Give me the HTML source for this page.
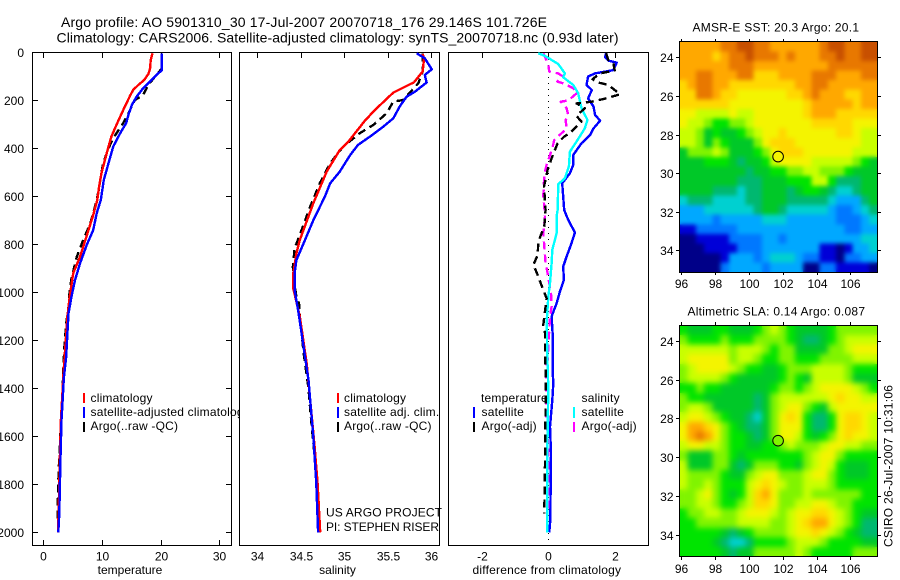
<!DOCTYPE html>
<html>
<head>
<meta charset="utf-8">
<style>
html,body{margin:0;padding:0;background:#fff;}
svg{display:block;}
text{font-family:"Liberation Sans",sans-serif;font-size:12px;fill:#000;}
.ttl{font-size:14px;}
.lg{letter-spacing:0.2px;}
.ax{fill:#fff;stroke:#000;stroke-width:1;shape-rendering:crispEdges;}
.mapbox{fill:none;stroke:#000;stroke-width:1;shape-rendering:crispEdges;}
.tick{stroke:#000;stroke-width:1;shape-rendering:crispEdges;}
.bar{stroke-width:2.4;shape-rendering:crispEdges;}
.prof{fill:none;stroke-width:2.4;shape-rendering:crispEdges;stroke-linejoin:round;}
</style>
</head>
<body>
<svg xmlns="http://www.w3.org/2000/svg" width="900" height="580" viewBox="0 0 900 580">
  <defs>
    <filter id="sst-smooth" filterUnits="userSpaceOnUse" x="680" y="42" width="197" height="230" color-interpolation-filters="sRGB">
      <feGaussianBlur in="SourceGraphic" stdDeviation="2.2" result="b"/>
      <feMerge><feMergeNode in="SourceGraphic"/><feMergeNode in="b"/></feMerge>
    </filter>
    <filter id="sla-smooth" filterUnits="userSpaceOnUse" x="680" y="326" width="197" height="230" color-interpolation-filters="sRGB">
      <feGaussianBlur in="SourceGraphic" stdDeviation="3" result="b"/>
      <feMerge><feMergeNode in="SourceGraphic"/><feMergeNode in="b"/></feMerge>
    </filter>
  </defs>
  <rect width="900" height="580" fill="#fff"/>
  <text class="ttl" x="61" y="27" textLength="486" lengthAdjust="spacing">Argo profile: AO 5901310_30 17-Jul-2007 20070718_176 29.146S 101.726E</text>
  <text class="ttl" x="56.5" y="42.5" textLength="562" lengthAdjust="spacing">Climatology: CARS2006. Satellite-adjusted climatology: synTS_20070718.nc (0.93d later)</text>

  <g>
    <rect class="ax" x="32.5" y="52.5" width="199" height="493"/>
    <g id="temp-marks"></g>
    <text x="130" y="574" text-anchor="middle">temperature</text>
    <rect class="bar" x="83" y="393" width="2" height="10" fill="#f00"/>
    <rect class="bar" x="83" y="407" width="2" height="11" fill="#00f"/>
    <rect class="bar" x="83" y="422" width="2" height="10" fill="#000"/>
    <text class="lg" x="90.5" y="402">climatology</text>
    <text class="lg" x="90.5" y="416">satellite-adjusted climatology</text>
    <text class="lg" x="90.5" y="430">Argo(..raw -QC)</text>
  </g>

  <g>
    <rect class="ax" x="239.5" y="52.5" width="200" height="493"/>
    <g id="sal-marks"></g>
    <text x="337.5" y="574" text-anchor="middle">salinity</text>
    <rect class="bar" x="337" y="393" width="2" height="10" fill="#f00"/>
    <rect class="bar" x="337" y="407" width="2" height="11" fill="#00f"/>
    <rect class="bar" x="337" y="422" width="2" height="10" fill="#000"/>
    <text class="lg" x="344" y="402">climatology</text>
    <text class="lg" x="344" y="416">satellite adj. clim.</text>
    <text class="lg" x="344" y="430">Argo(..raw -QC)</text>
    <text x="326" y="516.5" textLength="116" lengthAdjust="spacing">US ARGO PROJECT</text>
    <text x="326" y="531" textLength="113" lengthAdjust="spacing">PI: STEPHEN RISER</text>
  </g>

  <g>
    <rect class="ax" x="448.5" y="52.5" width="200" height="493"/>
    <line x1="548.5" y1="53" x2="548.5" y2="545" stroke="#000" stroke-width="1" stroke-dasharray="1 5" shape-rendering="crispEdges"/>
    <g id="diff-marks"></g>
    <text x="472.5" y="574" textLength="148.5" lengthAdjust="spacing">difference from climatology</text>
    <text class="lg" x="481" y="402">temperature</text>
    <rect class="bar" x="473" y="407" width="2" height="11" fill="#00f"/>
    <rect class="bar" x="473" y="422" width="2" height="10" fill="#000"/>
    <text class="lg" x="481.5" y="416">satellite</text>
    <text class="lg" x="481.5" y="430">Argo(-adj)</text>
    <text class="lg" x="581.5" y="402">salinity</text>
    <rect class="bar" x="573" y="407" width="2" height="11" fill="#0ff"/>
    <rect class="bar" x="573" y="422" width="2" height="10" fill="#f0f"/>
    <text class="lg" x="581.5" y="416">satellite</text>
    <text class="lg" x="581.5" y="430">Argo(-adj)</text>
  </g>

  <g>
    <text x="692.5" y="31.5" textLength="166.5" lengthAdjust="spacing">AMSR-E SST: 20.3 Argo: 20.1</text>
    <g id="sst-cells" filter="url(#sst-smooth)"></g>
    <rect class="mapbox" x="679.5" y="41.5" width="198" height="231"/>
    <g id="sst-axis"></g>
  </g>

  <g>
    <text x="687.5" y="315.5" textLength="177.5" lengthAdjust="spacing">Altimetric SLA: 0.14 Argo: 0.087</text>
    <g id="sla-cells" filter="url(#sla-smooth)"></g>
    <rect class="mapbox" x="679.5" y="325.5" width="198" height="231"/>
    <g id="sla-axis"></g>
  </g>

  <text transform="translate(892.5,547) rotate(-90)" textLength="162" lengthAdjust="spacing">CSIRO 26-Jul-2007 10:31:06</text>
</svg>

<script>
// ---------- tick labels ----------
const depthTicks = [0,200,400,600,800,1000,1200,1400,1600,1800,2000];
const tempTicks = [0,10,20,30];
const salTicks = [34,34.5,35,35.5,36];
const diffTicks = [-2,0,2];
const lonTicks = [96,98,100,102,104,106];
const latTicks = [24,26,28,30,32,34];

// ---------- temperature profiles ----------
const tempClimDepth = [4,32,67,90,115,136,157,180,226,268,317,351,393,449,504,560,615,678,741,852,921,1018,1102,1227,1350,1400,1532,1670,1782,1921,2000];
const tempClimValue = [18.6,18.3,18.2,17.9,17.2,16.2,15.3,14.8,13.9,13.1,12.2,11.6,11.1,10.5,9.9,9.5,9.2,8.5,7.7,6.25,5.1,4.5,4.1,3.75,3.4,3.3,3.0,2.85,2.75,2.6,2.5];
const tempSatDepth = [4,46,74,94,122,150,185,219,261,296,337,393,462,532,615,671,741,803,880,949,1018,1088,1171,1268,1359,1400,1532,1670,1782,1921,2000];
const tempSatValue = [20.2,20.2,20.2,19.3,18.2,17.0,15.9,15.1,14.5,14.1,13.1,11.9,11.1,10.3,9.8,9.1,8.5,7.4,6.25,5.4,4.8,4.3,4.1,3.9,3.5,3.4,3.1,2.95,2.85,2.73,2.56];
const tempArgoDepth = [4,67,108,136,178,199,254,296,358,400,462,518,580,643,713,782,852,942,991,1060,1129,1227,1324,1450,1600,1750,1900,1960];
const tempArgoValue = [20.2,20.2,18.8,17.9,17.0,15.6,14.5,13.6,11.9,11.1,10.2,9.8,9.4,8.8,8.0,6.8,5.7,4.8,4.5,4.3,3.9,3.6,3.4,3.2,2.9,2.6,2.45,2.4];

// ---------- salinity profiles ----------
const salClimDepth = [7,25,80,125,168,240,285,372,407,497,629,782,838,921,984,1100,1300,1643,1796,2000];
const salClimValue = [35.905,35.92,35.905,35.805,35.567,35.356,35.24,35.05,34.95,34.80,34.645,34.49,34.45,34.415,34.415,34.49,34.57,34.66,34.695,34.725];
const salSatDepth = [4,25,71,94,126,164,185,226,275,310,351,386,428,497,546,600,700,782,866,921,991,1074,1171,1268,1366,1449,1601,1796,2000];
const salSatValue = [35.836,35.93,36.01,35.93,35.95,35.816,35.72,35.64,35.567,35.45,35.30,35.16,35.07,34.95,34.84,34.78,34.645,34.55,34.45,34.43,34.43,34.47,34.51,34.55,34.59,34.61,34.645,34.68,34.70];
const salArgoDepth = [4,80,129,199,205,254,303,337,393,462,546,643,761,817,893,935,1018,1046,1100,1255,1310,1400,1530,1700,1921];
const salArgoValue = [35.905,35.905,35.855,35.68,35.567,35.49,35.336,35.18,34.99,34.84,34.72,34.61,34.49,34.43,34.41,34.415,34.45,34.48,34.49,34.535,34.555,34.59,34.62,34.665,34.71];

// ---------- differences from climatology ----------
const diffTempSatDepth = [4,21,35,43,74,88,101,136,157,192,226,261,285,317,344,379,428,469,504,546,601,657,698,751,796,851,893,948,997,1046,1101,1171,1323,1380,1449,1560,1670,1949,2000];
const diffTempSatValue = [1.74,1.71,1.81,2.06,1.96,1.41,1.20,1.15,1.31,1.20,1.36,1.41,1.56,1.36,1.26,1.0,0.75,0.75,0.65,0.42,0.45,0.48,0.60,0.80,0.70,0.55,0.45,0.47,0.35,0.25,0.10,0.13,0.13,0.15,0.12,0.05,0.08,0.06,0.03];
const diffTempArgoDepth = [4,32,46,76,88,112,126,136,175,193,206,213,233,265,289,337,351,379,442,490,560,657,726,789,844,886,934,962,1025,1136,1171,1254,1316,1463,1713,1921];
const diffTempArgoValue = [1.74,1.81,1.96,2.0,1.56,1.33,1.5,1.81,2.16,1.71,1.31,0.85,1.1,0.85,1.0,0.65,0.48,0.28,0.10,-0.02,-0.13,-0.08,-0.12,-0.30,-0.32,-0.45,-0.30,-0.23,-0.05,-0.15,-0.10,-0.10,-0.08,-0.08,-0.10,-0.12];
const diffSalSatDepth = [4,15,49,88,104,136,171,233,282,317,372,414,476,525,549,657,684,754,823,879,962,1018,1129,1309,1400,1670,2000];
const diffSalSatValue = [-0.30,-0.10,0.30,0.50,0.45,0.75,0.90,1.0,1.18,1.10,0.85,0.65,0.62,0.50,0.30,0.28,0.25,0.25,0.12,0.10,0.05,0,-0.05,-0.02,0,-0.03,-0.03];
const diffSalArgoDepth = [4,18,53,81,88,99,122,129,150,168,201,206,233,261,282,317,337,365,400,428,469,511,601,643,684,754,809,879,921,1004,1059,1101,1282,1309,1393,1490,1670,1921];
const diffSalArgoValue = [-0.15,-0.10,0,0.03,0.30,0.42,0.27,0.45,0.75,0.88,0.60,0.37,0.55,0.60,0.52,0.55,0.40,0.18,0.12,0.05,-0.05,-0.12,-0.15,-0.12,-0.10,-0.15,-0.12,-0.08,-0.02,0.08,0.10,0.05,-0.02,-0.07,-0.07,-0.07,0,0];

// ---------- map colour levels (0 = coldest/lowest, 14 = warmest/highest) ----------
const sstLevels = [
[12,12,12,12,12,13,13,14,14,13,13,12,12,12,12,12,12,13,14,14,13,13,14,14],
[12,12,12,12,11,12,13,13,14,13,13,13,12,13,12,12,12,13,13,14,13,13,14,14],
[12,12,12,12,12,12,13,13,13,12,12,12,12,12,12,12,12,12,13,13,13,13,13,13],
[12,12,13,13,12,12,12,13,13,11,11,11,12,12,12,12,13,13,13,12,12,12,13,13],
[11,12,13,13,12,12,11,11,11,11,11,11,11,11,12,12,13,13,12,12,12,12,12,12],
[11,11,13,13,12,11,11,10,10,10,10,10,10,11,11,12,13,12,12,12,11,11,12,12],
[11,11,11,11,11,11,10,10,10,10,10,10,10,10,10,11,12,12,12,12,12,11,12,12],
[10,10,9,9,9,9,10,9,9,10,10,10,10,10,10,11,12,12,12,11,11,11,11,11],
[10,9,9,8,7,7,8,8,9,10,10,10,10,10,10,10,11,11,11,11,11,10,10,10],
[9,9,8,6,7,6,6,7,8,9,10,10,11,10,10,10,10,10,10,11,11,10,9,9],
[9,9,8,6,8,7,6,6,6,8,10,11,11,11,10,10,10,10,10,10,10,10,9,9],
[6,8,8,8,9,8,6,6,6,7,8,10,11,11,11,10,10,10,10,10,10,9,9,9],
[6,6,6,7,7,7,6,5,6,6,7,9,10,10,10,10,9,9,9,9,9,8,7,6],
[6,6,6,6,6,6,6,6,5,6,6,7,7,8,8,9,9,8,8,8,7,6,6,6],
[6,6,6,6,6,6,6,5,5,5,6,6,6,7,7,7,9,9,7,5,5,5,6,6],
[6,6,6,6,5,5,5,4,5,5,6,6,6,5,6,7,7,6,5,4,4,5,6,6],
[4,5,5,5,4,4,4,4,5,5,6,6,6,5,5,5,5,5,4,3,3,3,5,6],
[3,3,3,4,4,4,4,4,4,5,6,6,5,4,4,4,4,4,3,2,2,3,4,5],
[3,3,3,3,2,3,3,3,3,3,4,4,4,3,3,3,3,3,3,2,2,2,3,4],
[1,1,2,2,2,2,2,3,3,3,3,3,3,3,3,3,3,3,3,3,2,2,3,3],
[0,0,1,1,1,1,2,2,2,2,3,3,2,3,3,3,3,3,3,3,3,3,4,4],
[0,0,0,1,1,1,1,2,2,2,3,3,3,3,3,3,3,1,1,0,1,3,3,4],
[0,0,0,0,0,1,3,3,3,2,3,4,4,4,3,2,2,1,1,0,2,2,3,3],
[0,0,0,0,0,2,3,3,3,3,2,3,3,3,3,0,0,2,2,1,1,1,1,0]
];
const slaLevels = [
[7,6,6,6,7,7,6,6,6,7,8,9,8,7,6,6,6,6,7,8,8,8,8,8],
[8,7,7,7,7,8,7,7,7,8,8,8,8,7,6,5,5,6,7,8,9,9,9,9],
[9,9,9,9,9,9,8,9,9,9,8,7,8,8,6,6,6,6,8,8,9,10,10,10],
[9,10,10,10,10,10,8,9,9,8,7,7,8,8,7,7,7,8,8,8,8,9,9,9],
[8,9,10,10,10,10,9,8,7,7,6,6,7,8,8,8,9,9,9,9,8,7,7,7],
[8,9,9,9,9,8,7,6,6,6,6,6,7,8,7,6,9,9,9,9,8,6,6,6],
[7,7,8,7,7,6,6,6,6,6,6,7,8,8,7,8,9,10,10,10,10,9,8,7],
[8,7,7,6,6,6,6,6,6,5,6,8,9,9,9,9,9,9,10,11,10,10,9,9],
[8,9,9,8,6,6,6,6,6,5,6,8,9,10,10,8,7,6,9,10,10,10,10,10],
[9,10,10,9,8,7,6,6,5,4,6,8,10,11,10,7,5,5,7,10,11,11,10,9],
[10,12,12,11,10,8,7,6,5,5,6,8,10,10,10,7,5,5,7,10,11,11,10,9],
[10,12,13,12,10,8,7,7,6,5,6,8,10,10,9,7,6,7,8,10,11,10,10,9],
[9,10,10,9,9,8,7,7,6,6,7,7,8,9,8,8,8,9,10,10,9,9,8,8],
[8,6,6,6,8,8,7,6,7,7,7,7,7,7,7,8,9,10,10,8,7,7,7,7],
[9,6,6,6,8,8,6,5,6,8,8,8,7,7,6,8,9,10,9,7,6,6,6,7],
[9,8,8,8,8,7,6,6,8,9,10,10,8,8,8,9,10,10,8,7,6,6,6,7],
[9,8,8,9,8,7,7,7,9,10,11,10,9,8,8,9,9,9,8,7,7,7,7,7],
[8,8,9,10,8,7,6,7,9,11,12,10,8,8,8,9,8,8,8,8,8,8,7,7],
[8,8,9,9,8,7,7,8,9,11,11,10,8,8,9,9,10,10,9,8,8,7,7,7],
[7,8,8,9,9,8,8,9,10,10,10,9,8,9,10,10,11,11,10,9,8,7,6,6],
[7,7,8,8,8,8,8,9,9,9,9,8,8,9,10,11,12,12,10,9,8,7,5,5],
[7,7,7,7,7,6,5,6,7,8,8,8,8,9,10,10,11,10,9,8,7,6,5,5],
[7,7,7,7,6,5,4,4,5,7,7,7,7,8,9,9,9,8,7,7,7,7,6,6],
[7,7,7,7,7,6,5,6,6,8,8,8,8,8,9,8,7,7,7,7,7,8,8,8]
];
const floatLon = [101.726];
const floatLat = [29.146];
const floatSstLevel = [10];
const floatSlaLevel = [8.4];

// ---------- axis functions ----------
const NS = 'http://www.w3.org/2000/svg';
function depthY(d){ return 52.3 + 0.24 * d; }
function tempX(t){ return 43.3 + 5.87 * t; }
function salX(s){ return 257.3 + 86.8 * (s - 34); }
function diffX(v){ return 548.3 + 33.2 * v; }
function sstLonX(lon){ return 681.3 + 16.9 * (lon - 96); }
function sstLatY(lat){ return 57.3 + 19.3 * (lat - 24); }
function slaLatY(lat){ return 341 + 19.37 * (lat - 24); }

const palette = ['#000088','#0000d8','#0078ff','#00a8ff','#00d0d0','#00b870','#00c828','#00e400','#80f400','#c8ff00','#f4f400','#ffd800','#ffa800','#e87800','#c85000'];
function levelColor(v){
  const i = Math.max(0, Math.min(palette.length - 1, Math.round(v)));
  return palette[i];
}
function make(tag, parent){
  const el = document.createElementNS(NS, tag);
  parent.appendChild(el);
  return el;
}
function drawProfile(parent, depths, values, xFn, color, dashed){
  const el = make('polyline', parent);
  el.setAttribute('class', 'prof');
  el.setAttribute('stroke', color);
  el.setAttribute('points', depths.map((d, i) => xFn(values[i]).toFixed(1) + ',' + depthY(d).toFixed(1)).join(' '));
  if (dashed) el.setAttribute('stroke-dasharray', '8 5');
  return el;
}
function drawTick(parent, x1, y1, x2, y2){
  const el = make('line', parent);
  el.setAttribute('class', 'tick');
  el.setAttribute('x1', x1);
  el.setAttribute('y1', y1);
  el.setAttribute('x2', x2);
  el.setAttribute('y2', y2);
  
  
  return el;
}
function drawLabel(parent, x, y, str, anchor){
  const el = make('text', parent);
  el.setAttribute('x', x);
  el.setAttribute('y', y);
  el.setAttribute('text-anchor', anchor);
  el.textContent = str;
  
  
  return el;
}
function profileXAxis(parent, ticks, xFn, bottomTicks){
  ticks.forEach(t => {
    const x = Math.round(xFn(t)) + 0.5;
    drawTick(parent, x, 53, x, 58);
    if (bottomTicks) drawTick(parent, x, 545, x, 540);
    drawLabel(parent, x, 560.5, String(t), 'middle');
  });
}
function drawMap(cellsId, axisId, levels, latFn, lonTicksArr, latTicksArr, labelBaseline, cLevel){
  const cells = document.getElementById(cellsId);
  const axis = document.getElementById(axisId);
  const rows = levels.length;
  const lonMin = 95.88, lonMax = 107.6, latMin = 23.19, latMax = 35.14;
  const dLon = (lonMax - lonMin) / levels[0].length;
  const dLat = (latMax - latMin) / rows;
  levels.forEach((row, j) => {
    row.forEach((v, i) => {
      const x0 = sstLonX(lonMin + i * dLon), x1 = sstLonX(lonMin + (i + 1) * dLon);
      const y0 = latFn(latMin + j * dLat), y1 = latFn(latMin + (j + 1) * dLat);
      const el = make('rect', cells);
      el.setAttribute('x', x0.toFixed(2));
      el.setAttribute('y', y0.toFixed(2));
      el.setAttribute('width', (x1 - x0 + 0.4).toFixed(2));
      el.setAttribute('height', (y1 - y0 + 0.4).toFixed(2));
      el.setAttribute('fill', levelColor(v));
      el.setAttribute('shape-rendering', 'crispEdges');
      
      
    });
  });
  const top = latFn(latMin), bot = latFn(latMax);
  lonTicksArr.forEach(t => {
    const x = Math.round(sstLonX(t)) + 0.5;
    drawTick(axis, x, Math.round(top) - 3, x, Math.round(top));
    drawTick(axis, x, Math.round(bot), x, Math.round(bot) + 3);
    drawLabel(axis, x, labelBaseline, String(t), 'middle');
  });
  latTicksArr.forEach(t => {
    const y = Math.round(latFn(t)) + 0.5;
    drawTick(axis, 676, y, 679, y);
    drawTick(axis, 878, y, 881, y);
    drawLabel(axis, 673.5, y + 4.5, String(t), 'end');
  });
  const c = make('circle', axis);
  c.setAttribute('cx', sstLonX(floatLon[0]).toFixed(1));
  c.setAttribute('cy', latFn(floatLat[0]).toFixed(1));
  c.setAttribute('r', '5.3');
  c.setAttribute('fill', levelColor(cLevel));
  c.setAttribute('stroke', '#000');
  c.setAttribute('stroke-width', '1');
  
  
}

// ---------- draw ----------
const tempMarks = document.getElementById('temp-marks');
const salMarks = document.getElementById('sal-marks');
const diffMarks = document.getElementById('diff-marks');

depthTicks.forEach(d => {
  const y = Math.round(depthY(d)) + 0.5;
  drawTick(tempMarks, 33, y, 38, y);
  drawTick(tempMarks, 231, y, 226, y);
  drawLabel(tempMarks, 24, y + 4.5, String(d), 'end');
});
profileXAxis(tempMarks, tempTicks, tempX, true);
profileXAxis(salMarks, salTicks, salX, false);
profileXAxis(diffMarks, diffTicks, diffX, false);

let line;
line = drawProfile(tempMarks, tempArgoDepth, tempArgoValue, tempX, '#000', true);


line = drawProfile(tempMarks, tempClimDepth, tempClimValue, tempX, '#f00', false);


line = drawProfile(tempMarks, tempSatDepth, tempSatValue, tempX, '#00f', false);



line = drawProfile(salMarks, salArgoDepth, salArgoValue, salX, '#000', true);


line = drawProfile(salMarks, salClimDepth, salClimValue, salX, '#f00', false);


line = drawProfile(salMarks, salSatDepth, salSatValue, salX, '#00f', false);



line = drawProfile(diffMarks, diffTempSatDepth, diffTempSatValue, diffX, '#00f', false);


line = drawProfile(diffMarks, diffSalArgoDepth, diffSalArgoValue, diffX, '#f0f', true);


line = drawProfile(diffMarks, diffSalSatDepth, diffSalSatValue, diffX, '#0ff', false);


line = drawProfile(diffMarks, diffTempArgoDepth, diffTempArgoValue, diffX, '#000', true);



drawMap('sst-cells', 'sst-axis', sstLevels, sstLatY, lonTicks, latTicks, 288, floatSstLevel[0]);
drawMap('sla-cells', 'sla-axis', slaLevels, slaLatY, lonTicks, latTicks, 573, floatSlaLevel[0]);
</script>
</body>
</html>
